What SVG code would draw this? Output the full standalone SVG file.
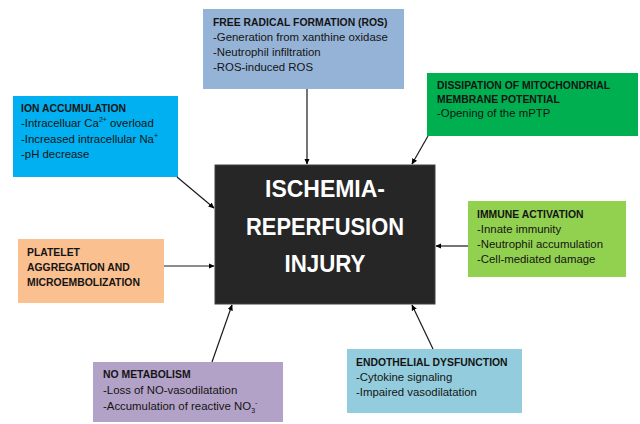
<svg xmlns="http://www.w3.org/2000/svg" width="640" height="424" viewBox="0 0 640 424">
<defs>
<marker id="ah" viewBox="0 0 10 10" refX="9" refY="5" markerWidth="6" markerHeight="6" orient="auto" markerUnits="userSpaceOnUse"><path d="M0,0.5 L10,5 L0,9.5 z" fill="#000"/></marker>
<style>
text{font-family:"Liberation Sans",Arial,sans-serif;fill:#141414}
.t{font-weight:bold;font-size:10.4px}
.b{font-size:11.4px}
.c{font-family:"Liberation Sans",Arial,sans-serif;font-weight:bold;font-size:24.5px;fill:#fff;text-anchor:middle}
.sup{font-size:7px}
.con line{stroke:#1a1a1a;stroke-width:1.2;marker-end:url(#ah)}
</style>
</defs>
<rect width="640" height="424" fill="#fff"/>

<g id="center">
<rect x="215" y="165" width="220" height="139" fill="#262626" stroke="#404040" stroke-width="1"/>
<text class="c" x="325" y="197" textLength="120" lengthAdjust="spacingAndGlyphs">ISCHEMIA-</text>
<text class="c" x="325" y="235" textLength="158" lengthAdjust="spacingAndGlyphs">REPERFUSION</text>
<text class="c" x="325" y="272" textLength="81" lengthAdjust="spacingAndGlyphs">INJURY</text>
</g>

<g id="free-radical">
<rect x="203" y="9" width="201" height="80" fill="#95b3d7"/>
<text class="t" x="213" y="26">FREE RADICAL FORMATION (ROS)</text>
<text class="b" x="213" y="41">-Generation from xanthine oxidase</text>
<text class="b" x="213" y="56">-Neutrophil infiltration</text>
<text class="b" x="213" y="71">-ROS-induced ROS</text>
</g>

<g id="mitochondrial">
<rect x="427" y="73" width="211" height="63" fill="#00b050"/>
<text class="t" x="437" y="89">DISSIPATION OF MITOCHONDRIAL</text>
<text class="t" x="437" y="103">MEMBRANE POTENTIAL</text>
<text class="b" x="437" y="117">-Opening of the mPTP</text>
</g>

<g id="ion">
<rect x="13" y="96" width="165" height="81" fill="#00b0f0"/>
<text class="t" x="21" y="112">ION ACCUMULATION</text>
<text class="b" x="21" y="127">-Intracelluar Ca<tspan class="sup" dy="-5">2+</tspan><tspan dy="5"> overload</tspan></text>
<text class="b" x="21" y="143">-Increased intracellular Na<tspan class="sup" dy="-5">+</tspan></text>
<text class="b" x="21" y="158">-pH decrease</text>
</g>

<g id="platelet">
<rect x="18" y="239" width="146" height="64" fill="#fac090"/>
<text class="t" x="27" y="256">PLATELET</text>
<text class="t" x="27" y="271">AGGREGATION AND</text>
<text class="t" x="27" y="286">MICROEMBOLIZATION</text>
</g>

<g id="immune">
<rect x="468" y="201" width="158" height="76" fill="#92d050"/>
<text class="t" x="477" y="218">IMMUNE ACTIVATION</text>
<text class="b" x="477" y="233">-Innate immunity</text>
<text class="b" x="477" y="248">-Neutrophil accumulation</text>
<text class="b" x="477" y="263">-Cell-mediated damage</text>
</g>

<g id="no-metabolism">
<rect x="93" y="362" width="190" height="60" fill="#b3a2c7"/>
<text class="t" x="103" y="378">NO METABOLISM</text>
<text class="b" x="103" y="394">-Loss of NO-vasodilatation</text>
<text class="b" x="103" y="410">-Accumulation of reactive NO<tspan class="sup" dy="3">3</tspan><tspan class="sup" dy="-8">-</tspan></text>
</g>

<g id="endothelial">
<rect x="347" y="349" width="175" height="64" fill="#93cddd"/>
<text class="t" x="356" y="366">ENDOTHELIAL DYSFUNCTION</text>
<text class="b" x="356" y="381">-Cytokine signaling</text>
<text class="b" x="356" y="396">-Impaired vasodilatation</text>
</g>

<g id="connectors" class="con">
<line x1="307" y1="89" x2="307" y2="164"/>
<line x1="428" y1="136" x2="412" y2="164"/>
<line x1="177" y1="177" x2="214" y2="208"/>
<line x1="164" y1="266" x2="214" y2="266"/>
<line x1="468" y1="246" x2="436" y2="246"/>
<line x1="212" y1="362" x2="232" y2="305"/>
<line x1="433" y1="349" x2="412" y2="305"/>
</g>
</svg>
